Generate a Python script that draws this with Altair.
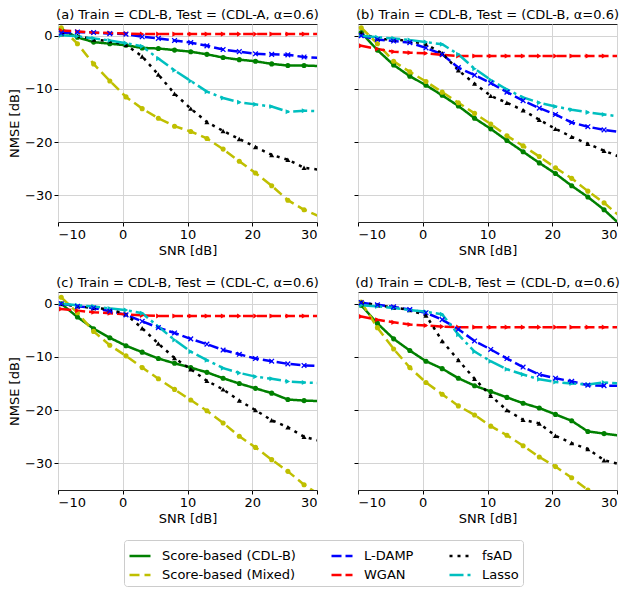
import altair as alt
import pandas as pd

snr = [-9.5, -7, -4.5, -2, 0.5, 3, 5.5, 8, 10.5, 13, 15.5, 18, 20.5, 23, 25.5, 28, 30.5]

series_order = ["Score-based (CDL-B)", "Score-based (Mixed)", "L-DAMP", "WGAN", "fsAD", "Lasso"]
series_colors = ["#008000", "#bfbf00", "#0000ff", "#ff0000", "#000000", "#00bfbf"]
series_dashes = [[1, 0], [10, 5], [10, 4], [10, 4], [3, 5], [14, 4, 3, 4]]
series_shapes = ["circle", "circle", "circle", "triangle-right", "triangle-up", "triangle-right"]
marker_keys = ["m1", "m2", "m3", "m4", "m5", "m6"]

panel_titles = {
    "a": "(a) Train = CDL-B, Test = (CDL-A, α=0.6)",
    "b": "(b) Train = CDL-B, Test = (CDL-B, α=0.6)",
    "c": "(c) Train = CDL-B, Test = (CDL-C, α=0.6)",
    "d": "(d) Train = CDL-B, Test = (CDL-D, α=0.6)",
}

a_cdlb = [1.2, -0.3, -1.2, -1.5, -1.8, -2.3, -2.4, -2.7, -3.0, -3.5, -4.1, -4.5, -4.8, -5.3, -5.6, -5.6, -5.7]
a_mixed = [1.5, -1.5, -5.3, -8.5, -11.5, -13.7, -15.5, -17.0, -18.0, -19.3, -21.3, -23.6, -25.8, -28.2, -30.9, -32.7, -34.0]
a_ldamp = [0.5, 0.7, 0.6, 0.4, 0.3, -0.2, -0.5, -0.9, -1.3, -1.9, -2.6, -3.0, -3.4, -3.5, -3.6, -4.0, -4.2]
a_wgan = [1.0, 0.8, 0.6, 0.5, 0.4, 0.3, 0.3, 0.3, 0.3, 0.3, 0.3, 0.3, 0.3, 0.3, 0.3, 0.3, 0.3]
a_fsad = [0.3, 0.0, -0.7, -1.0, -1.7, -3.9, -7.3, -10.9, -13.7, -16.2, -17.9, -19.4, -20.9, -22.4, -23.3, -24.8, -25.2]
a_lasso = [0.1, -0.1, -0.5, -0.9, -1.4, -2.0, -4.3, -6.5, -8.5, -10.5, -11.7, -12.5, -12.9, -13.3, -14.3, -14.1, -14.2]

b_cdlb = [0.6, -2.7, -5.5, -7.6, -9.3, -11.2, -13.2, -15.5, -17.5, -19.7, -21.8, -23.9, -25.9, -28.2, -30.3, -32.7, -35.5]
b_mixed = [1.5, -1.5, -4.8, -6.8, -8.6, -10.6, -12.6, -14.6, -16.6, -18.8, -20.7, -22.7, -24.8, -26.8, -29.2, -31.4, -34.0]
b_ldamp = [0.0, -0.7, -1.0, -1.3, -2.3, -3.5, -6.0, -7.4, -8.9, -10.6, -12.2, -13.6, -14.8, -16.3, -17.1, -17.7, -18.1]
b_wgan = [-1.9, -2.5, -3.0, -3.2, -3.3, -3.6, -3.8, -3.8, -3.8, -3.8, -3.8, -3.8, -3.8, -3.8, -3.8, -3.8, -3.8]
b_fsad = [0.5, -0.6, -0.7, -1.0, -1.6, -3.3, -6.5, -9.0, -11.3, -12.6, -14.0, -15.8, -17.5, -19.0, -20.3, -21.6, -22.8]
b_lasso = [0.0, -0.3, -0.5, -0.8, -1.2, -1.6, -3.5, -6.2, -8.3, -10.1, -11.6, -12.6, -13.3, -13.9, -14.4, -14.8, -15.2]

c_cdlb = [0.0, -2.5, -4.7, -6.4, -7.9, -9.1, -10.3, -11.2, -12.0, -12.9, -14.0, -15.0, -15.9, -16.8, -18.0, -18.2, -18.3]
c_mixed = [1.2, -1.7, -5.2, -7.8, -9.8, -12.0, -14.1, -16.1, -18.1, -20.1, -22.4, -24.9, -27.0, -29.3, -31.5, -34.0, -36.0]
c_ldamp = [0.0, -0.5, -0.8, -1.4, -2.1, -3.3, -4.5, -5.5, -6.6, -7.6, -8.7, -9.5, -10.3, -10.8, -11.3, -11.6, -11.7]
c_wgan = [-1.0, -1.3, -1.6, -1.8, -2.0, -2.2, -2.3, -2.3, -2.3, -2.3, -2.3, -2.3, -2.3, -2.3, -2.3, -2.3, -2.3]
c_fsad = [0.0, -0.5, -0.8, -1.0, -2.0, -4.6, -7.5, -10.2, -12.3, -14.5, -16.1, -18.2, -20.0, -21.9, -23.2, -25.0, -25.8]
c_lasso = [0.0, -0.3, -0.5, -0.9, -1.2, -1.8, -4.3, -6.8, -9.0, -10.6, -12.1, -13.0, -13.7, -14.1, -14.6, -14.8, -14.9]

d_cdlb = [-0.3, -3.7, -6.6, -8.8, -10.8, -12.2, -14.0, -15.4, -16.5, -17.6, -18.7, -19.6, -20.8, -22.0, -24.0, -24.4, -24.8]
d_mixed = [0.3, -4.5, -8.5, -12.0, -14.8, -17.0, -19.2, -20.9, -23.0, -24.7, -26.7, -28.8, -30.6, -32.7, -35.0, -37.0, -39.0]
d_ldamp = [0.2, -0.2, -0.6, -1.1, -1.7, -3.0, -4.8, -7.0, -8.6, -10.3, -11.9, -13.3, -14.0, -14.6, -15.3, -15.4, -15.4]
d_wgan = [-2.4, -3.0, -3.5, -3.9, -4.1, -4.3, -4.4, -4.4, -4.4, -4.4, -4.4, -4.4, -4.4, -4.4, -4.4, -4.4, -4.4]
d_fsad = [0.3, -0.3, -0.7, -1.2, -2.2, -7.0, -10.6, -14.1, -17.3, -20.0, -21.8, -22.5, -24.8, -26.2, -27.3, -29.4, -30.2]
d_lasso = [-0.3, -0.5, -0.8, -1.2, -1.5, -2.0, -5.8, -9.0, -10.8, -12.3, -13.3, -14.2, -14.7, -15.0, -15.2, -14.8, -15.0]

panel_series = {
    "a": [a_cdlb, a_mixed, a_ldamp, a_wgan, a_fsad, a_lasso],
    "b": [b_cdlb, b_mixed, b_ldamp, b_wgan, b_fsad, b_lasso],
    "c": [c_cdlb, c_mixed, c_ldamp, c_wgan, c_fsad, c_lasso],
    "d": [d_cdlb, d_mixed, d_ldamp, d_wgan, d_fsad, d_lasso],
}

W, H = 259, 198
FONT = "DejaVu Sans"

legend = alt.Legend(
    title=None, orient="none", legendX=66, legendY=516, columns=3, direction="vertical",
    symbolType="stroke", symbolSize=441, symbolStrokeWidth=2.5,
    labelFontSize=13, labelFont=FONT, labelColor="black", labelLimit=300,
    strokeColor="#cccccc", fillColor="white", padding=4, cornerRadius=3,
    columnPadding=30, rowPadding=0, labelOffset=10,
)


def make_panel(key, left):
    rows = []
    for name, mk, vals in zip(series_order, marker_keys, panel_series[key]):
        for xv, yv in zip(snr, vals):
            rows.append({"series": name, "marker": mk, "snr": xv, "nmse": yv})
    df = pd.DataFrame(rows)
    base = alt.Chart(df)
    x = alt.X("snr:Q", scale=alt.Scale(domain=[-10, 30], nice=False),
              axis=alt.Axis(values=[-10, 0, 10, 20, 30], title="SNR [dB]"))
    if left:
        yaxis = alt.Axis(values=[0, -10, -20, -30], title="NMSE [dB]")
    else:
        yaxis = alt.Axis(values=[0, -10, -20, -30], title="", labels=False)
    y = alt.Y("nmse:Q", scale=alt.Scale(domain=[-35, 2.2], nice=False), axis=yaxis)
    color = alt.Color("series:N", scale=alt.Scale(domain=series_order, range=series_colors), legend=legend)
    dash = alt.StrokeDash("series:N", scale=alt.Scale(domain=series_order, range=series_dashes), legend=legend)
    fill = alt.Fill("marker:N", scale=alt.Scale(domain=marker_keys, range=series_colors), legend=None)
    stroke = alt.Stroke("marker:N", scale=alt.Scale(domain=marker_keys, range=series_colors), legend=None)
    lines = base.mark_line(strokeWidth=2.5, clip=True).encode(x=x, y=y, color=color, strokeDash=dash,
                                                              order=alt.Order("snr:Q"))
    pts = base.transform_filter(alt.datum.marker != "m3").mark_point(
        filled=True, size=26, opacity=1, clip=True, strokeWidth=0).encode(
        x=x, y=y, fill=fill,
        shape=alt.Shape("marker:N", scale=alt.Scale(domain=marker_keys, range=series_shapes), legend=None))
    xs = base.transform_filter(alt.datum.marker == "m3").mark_point(
        shape="M-1,-1L1,1M-1,1L1,-1", filled=False, size=22, strokeWidth=1.3, opacity=1, clip=True).encode(
        x=x, y=y, stroke=stroke)
    return alt.layer(lines, pts, xs).properties(
        width=W, height=H,
        title=alt.TitleParams(panel_titles[key], fontSize=13, font=FONT, fontWeight="normal",
                              anchor="middle", offset=2, color="black"))


chart = alt.concat(
    make_panel("a", True), make_panel("b", False), make_panel("c", True), make_panel("d", False),
    columns=2, spacing={"row": 70, "column": 41}, bounds="flush",
).properties(padding=0).configure_axis(
    labelFont=FONT, titleFont=FONT, labelFontSize=13, titleFontSize=13, labelColor="black",
    titleColor="black", titleFontWeight="normal", gridColor="#d4d4d4", gridWidth=1,
    tickColor="black", tickSize=4, domain=False, labelPadding=2, titlePadding=3,
).configure_view(stroke="#222222", strokeWidth=1)

chart.save("out.html", embed_options={"renderer": "svg", "actions": False})
